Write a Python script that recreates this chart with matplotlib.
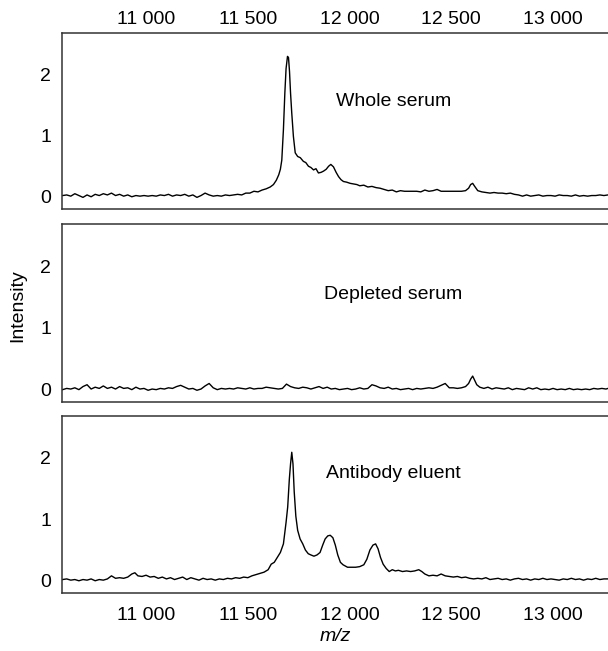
#!/usr/bin/env python

import matplotlib.pyplot as plt

"""
Three stacked SELDI/MALDI-style spectra sharing one m/z axis.
"""

# ---- data ----
mz_whole = [
    10590, 10610, 10630, 10650, 10670, 10690, 10710, 10730, 10750, 10770,
    10790, 10810, 10830, 10850, 10870, 10890, 10910, 10930, 10950, 10970,
    10990, 11010, 11030, 11050, 11070, 11090, 11110, 11130, 11150, 11170,
    11190, 11210, 11230, 11250, 11270, 11290, 11310, 11330, 11350, 11370,
    11390, 11410, 11430, 11450, 11470, 11490, 11510, 11530, 11550, 11570,
    11590, 11610, 11626, 11640, 11652, 11660, 11667, 11675, 11682, 11688,
    11695, 11700, 11705, 11710, 11716, 11724, 11733, 11745, 11758, 11773,
    11785, 11798, 11810, 11823, 11835, 11847, 11860, 11872, 11885, 11897,
    11908, 11921, 11934, 11946, 11958, 11970, 11985, 12003, 12020, 12036,
    12050, 12070, 12090, 12110, 12130, 12150, 12170, 12190, 12210, 12230,
    12250, 12270, 12290, 12310, 12330, 12350, 12370, 12390, 12410, 12430,
    12450, 12470, 12490, 12510, 12530, 12550, 12570, 12585, 12595, 12605,
    12615, 12630, 12650, 12670, 12690, 12710, 12730, 12750, 12770, 12790,
    12810, 12830, 12850, 12870, 12890, 12910, 12930, 12950, 12970, 12990,
    13010, 13030, 13050, 13070, 13090, 13110, 13130, 13150, 13170, 13190,
    13210, 13230, 13250, 13270,
]
int_whole = [
    0.02, 0.03, 0.01, 0.05, 0.02, -0.01, 0.03, 0.00, 0.04, 0.02,
    0.05, 0.03, 0.06, 0.02, 0.04, 0.01, 0.03, 0.00, 0.02, 0.01,
    0.02, 0.01, 0.02, 0.01, 0.03, 0.02, 0.04, 0.01, 0.03, 0.02,
    0.04, 0.01, 0.03, -0.01, 0.02, 0.06, 0.03, 0.01, 0.02, 0.01,
    0.03, 0.02, 0.03, 0.04, 0.03, 0.06, 0.06, 0.09, 0.08, 0.11,
    0.13, 0.16, 0.20, 0.27, 0.36, 0.45, 0.60, 1.10, 1.70, 2.10,
    2.30, 2.28, 2.05, 1.70, 1.37, 0.99, 0.72, 0.66, 0.64, 0.58,
    0.56, 0.50, 0.48, 0.44, 0.46, 0.39, 0.40, 0.42, 0.45, 0.50,
    0.53, 0.49, 0.40, 0.33, 0.28, 0.25, 0.24, 0.22, 0.21, 0.20,
    0.18, 0.19, 0.16, 0.17, 0.15, 0.14, 0.12, 0.10, 0.11, 0.08,
    0.10, 0.09, 0.09, 0.09, 0.09, 0.08, 0.11, 0.09, 0.10, 0.12,
    0.09, 0.09, 0.09, 0.09, 0.09, 0.09, 0.10, 0.14, 0.20, 0.22,
    0.17, 0.10, 0.08, 0.07, 0.06, 0.07, 0.06, 0.06, 0.05, 0.06,
    0.04, 0.03, 0.01, 0.03, 0.01, 0.02, 0.03, 0.01, 0.02, 0.02,
    0.01, 0.03, 0.02, 0.02, 0.01, 0.03, 0.01, 0.02, 0.01, 0.02,
    0.02, 0.03, 0.02, 0.03,
]

mz_depleted = [
    10590, 10610, 10630, 10650, 10670, 10690, 10710, 10730, 10750, 10770,
    10790, 10810, 10830, 10850, 10870, 10890, 10910, 10930, 10950, 10970,
    10990, 11010, 11030, 11050, 11070, 11090, 11110, 11130, 11150, 11170,
    11190, 11210, 11230, 11250, 11270, 11290, 11310, 11330, 11350, 11370,
    11390, 11410, 11430, 11450, 11470, 11490, 11510, 11530, 11550, 11570,
    11590, 11610, 11630, 11650, 11670, 11690, 11710, 11730, 11750, 11770,
    11790, 11810, 11830, 11850, 11870, 11890, 11910, 11930, 11950, 11970,
    11990, 12010, 12030, 12050, 12070, 12090, 12110, 12130, 12150, 12170,
    12190, 12210, 12230, 12250, 12270, 12290, 12310, 12330, 12350, 12370,
    12390, 12410, 12430, 12450, 12470, 12490, 12510, 12530, 12550, 12570,
    12585, 12595, 12605, 12615, 12625, 12640, 12660, 12680, 12700, 12720,
    12740, 12760, 12780, 12800, 12820, 12840, 12860, 12880, 12900, 12920,
    12940, 12960, 12980, 13000, 13020, 13040, 13060, 13080, 13100, 13120,
    13140, 13160, 13180, 13200, 13220, 13240, 13260, 13270,
]
int_depleted = [
    0.00, 0.02, 0.01, 0.03, 0.00, 0.05, 0.08, 0.01, 0.04, 0.02,
    0.06, 0.02, 0.04, 0.01, 0.05, 0.02, 0.03, 0.00, 0.04, 0.01,
    0.02, -0.01, 0.01, 0.00, 0.02, 0.01, 0.03, 0.02, 0.05, 0.07,
    0.04, 0.01, 0.02, -0.01, 0.01, 0.06, 0.10, 0.03, 0.00, 0.02,
    0.01, 0.02, 0.01, 0.03, 0.02, 0.01, 0.03, 0.01, 0.02, 0.02,
    0.04, 0.03, 0.02, 0.01, 0.02, 0.09, 0.05, 0.03, 0.02, 0.04,
    0.03, 0.01, 0.03, 0.05, 0.02, 0.04, 0.01, 0.02, 0.00, 0.01,
    0.02, 0.00, 0.01, 0.03, 0.01, 0.02, 0.08, 0.06, 0.03, 0.02,
    0.04, 0.01, 0.02, 0.00, 0.01, 0.02, 0.00, 0.02, 0.01, 0.02,
    0.03, 0.02, 0.04, 0.07, 0.10, 0.03, 0.03, 0.02, 0.03, 0.05,
    0.10, 0.17, 0.22, 0.15, 0.08, 0.04, 0.02, 0.04, 0.01, 0.03,
    0.02, 0.01, 0.03, 0.00, 0.02, 0.01, 0.00, 0.03, 0.01, 0.03,
    0.00, 0.01, 0.00, 0.02, 0.00, 0.01, 0.00, 0.02, 0.00, 0.01,
    0.00, 0.01, 0.00, 0.02, 0.01, 0.02, 0.01, 0.02,
]

mz_antibody = [
    10590, 10610, 10630, 10650, 10670, 10690, 10710, 10730, 10750, 10770,
    10790, 10810, 10830, 10850, 10870, 10890, 10910, 10930, 10945, 10960,
    10980, 11000, 11020, 11040, 11060, 11080, 11100, 11120, 11140, 11160,
    11180, 11200, 11220, 11240, 11260, 11280, 11300, 11320, 11340, 11360,
    11380, 11400, 11420, 11440, 11460, 11480, 11500, 11520, 11540, 11560,
    11580, 11600, 11615, 11630, 11645, 11660, 11675, 11688, 11696, 11704,
    11710, 11716, 11722, 11728, 11736, 11745, 11757, 11770, 11783, 11797,
    11810, 11825, 11840, 11855, 11868, 11880, 11893, 11905, 11918, 11930,
    11942, 11955, 11968, 11990, 12010, 12030, 12050, 12070, 12085, 12100,
    12115, 12128, 12140, 12152, 12165, 12180, 12195, 12210, 12225, 12240,
    12260, 12280, 12300, 12320, 12340, 12355, 12370, 12390, 12410, 12430,
    12450, 12470, 12490, 12510, 12530, 12550, 12570, 12590, 12610, 12630,
    12650, 12670, 12690, 12710, 12730, 12750, 12770, 12790, 12810, 12830,
    12850, 12870, 12890, 12910, 12930, 12950, 12970, 12990, 13010, 13030,
    13050, 13070, 13090, 13110, 13130, 13150, 13170, 13190, 13210, 13230,
    13250, 13270,
]
int_antibody = [
    0.02, 0.03, 0.01, 0.02, 0.00, 0.02, 0.01, 0.03, 0.00, 0.02,
    0.01, 0.03, 0.08, 0.04, 0.05, 0.04, 0.06, 0.11, 0.13, 0.08,
    0.07, 0.09, 0.06, 0.07, 0.04, 0.06, 0.03, 0.05, 0.02, 0.04,
    0.06, 0.02, 0.05, 0.03, 0.01, 0.04, 0.02, 0.03, 0.01, 0.03,
    0.02, 0.04, 0.03, 0.05, 0.04, 0.06, 0.05, 0.08, 0.10, 0.12,
    0.14, 0.18, 0.27, 0.30, 0.38, 0.46, 0.60, 0.95, 1.20, 1.65,
    1.90, 2.09, 1.90, 1.45, 1.05, 0.82, 0.68, 0.60, 0.50, 0.44,
    0.42, 0.40, 0.42, 0.46, 0.58, 0.68, 0.73, 0.74, 0.70, 0.58,
    0.42, 0.30, 0.26, 0.22, 0.22, 0.22, 0.23, 0.26, 0.35, 0.50,
    0.58, 0.60, 0.52, 0.38, 0.27, 0.20, 0.15, 0.18, 0.16, 0.17,
    0.15, 0.16, 0.15, 0.16, 0.18, 0.15, 0.11, 0.08, 0.09, 0.08,
    0.11, 0.08, 0.07, 0.06, 0.07, 0.05, 0.06, 0.04, 0.03, 0.04,
    0.03, 0.05, 0.02, 0.03, 0.04, 0.02, 0.03, 0.01, 0.03, 0.04,
    0.02, 0.03, 0.01, 0.03, 0.02, 0.04, 0.02, 0.03, 0.02, 0.01,
    0.03, 0.02, 0.04, 0.02, 0.03, 0.01, 0.03, 0.02, 0.04, 0.02,
    0.03, 0.03,
]

panel_labels = ["Whole serum", "Depleted serum", "Antibody eluent"]
label_pos = [(12215, 1.56), (12215, 1.55), (12215, 1.74)]
x_ticks = [11000, 11500, 12000, 12500, 13000]
x_ticklabels = ["11 000", "11 500", "12 000", "12 500", "13 000"]
y_ticks = [0, 1, 2]

plt.rcParams["font.family"] = ["Liberation Sans", "DejaVu Sans"]

fig = plt.figure(figsize=(6.08, 6.51), dpi=100)
rects = [
    [0.102, 0.679, 0.898, 0.270],
    [0.102, 0.3825, 0.898, 0.273],
    [0.102, 0.089, 0.898, 0.272],
]
series = [(mz_whole, int_whole), (mz_depleted, int_depleted),
          (mz_antibody, int_antibody)]

axes = []
for i, (rect, (mz, inten)) in enumerate(zip(rects, series)):
    ax = fig.add_axes(rect)
    ax.plot(mz, inten, color="black", lw=1.0)
    ax.set_xlim(10587, 13270)
    ax.set_ylim(-0.2, 2.68)
    ax.set_yticks(y_ticks)
    ax.set_xticks(x_ticks)
    ax.tick_params(length=0, labelsize=14)
    ax.tick_params(axis="y", pad=8)
    ax.spines["right"].set_visible(False)
    for s in ["left", "top", "bottom"]:
        ax.spines[s].set_linewidth(1.1)
        ax.spines[s].set_color("#333333")
    tx, ty = label_pos[i]
    ax.text(tx, ty, panel_labels[i], fontsize=14, ha="center", va="center")
    if i == 0:
        ax.xaxis.tick_top()
        ax.set_xticklabels(x_ticklabels)
        ax.tick_params(axis="x", pad=4)
    elif i == 2:
        ax.set_xticklabels(x_ticklabels)
        ax.tick_params(axis="x", pad=10)
        ax.set_xlabel("m/z", fontsize=14, style="italic", labelpad=3)
    else:
        ax.set_xticklabels([])
    axes.append(ax)

fig.text(0.03, 0.53, "Intensity", rotation=90, fontsize=14,
         ha="center", va="center")

plt.savefig("out.png", dpi=100)
